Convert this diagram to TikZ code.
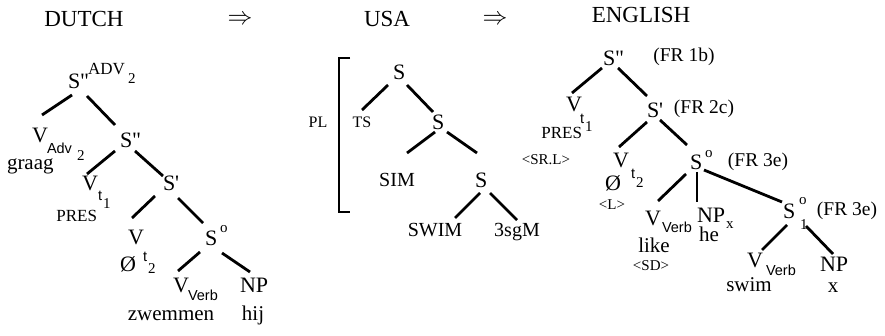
\documentclass[tikz,border=0pt]{standalone}
\usepackage{fontspec}
\setmainfont{Liberation Serif}
\newfontfamily\subsf{Liberation Sans}
\begin{document}
\begin{tikzpicture}[x=1pt,y=-1pt,
  every node/.style={inner sep=0pt, outer sep=0pt},
  big/.style={font=\fontsize{22}{24}\selectfont, anchor=base west},
  word/.style={font=\fontsize{21}{24}\selectfont, anchor=base},
  title/.style={font=\fontsize{23}{26}\selectfont, anchor=base},
  lab/.style={font=\fontsize{17}{19}\selectfont, anchor=base west},
  sup/.style={font=\fontsize{15}{17}\selectfont, anchor=base west},
  sfsub/.style={font=\subsf\fontsize{14.5}{16}\selectfont, anchor=base west},
  small/.style={font=\fontsize{16}{18}\selectfont, anchor=base},
  caps/.style={font=\fontsize{20}{22}\selectfont, anchor=base},
  fr/.style={font=\fontsize{19.5}{21}\selectfont, anchor=base},
  tiny/.style={font=\fontsize{15}{17}\selectfont, anchor=base},
  edge/.style={line width=2.8pt}
]
\useasboundingbox (0,0) rectangle (885,336);

% titles
\node[title] (tdutch) at (84,27) {DUTCH};
\node[font=\fontsize{24}{26}\selectfont] (arr1) at (240,20) {$\Rightarrow$};
\node[title] (tusa) at (387,27) {USA};
\node[font=\fontsize{24}{26}\selectfont] (arr2) at (495,20) {$\Rightarrow$};
\node[title] (teng) at (641,23) {ENGLISH};

% ===== DUTCH =====
\node[big] (dS1) at (68,89) {S\textquotedbl};
\node[lab] (dS1a) at (88,75) {ADV};
\node[sup] (dS1b) at (128,84) {2};
\node[big] (dV1) at (32,143) {V};
\node[sfsub] (dV1a) at (47,154) {Adv};
\node[sup] (dV1b) at (77,161) {2};
\node[word,anchor=base west] (dgraag) at (7,170) {graag};
\node[big] (dS2) at (120,148) {S\textquotedbl};
\node[big] (dV2) at (82,191) {V};
\node[sfsub] (dV2a) at (98,201) {t};
\node[sup] (dV2b) at (103,209) {1};
\node[lab,anchor=base east] (dpres) at (97,222) {PRES};
\node[big] (dS3) at (163,191) {S\textquotesingle};
\node[big] (dV3) at (128,245) {V};
\node[sfsub] (dV3a) at (143,262) {t};
\node[sup] (dV3b) at (148,273) {2};
\node[big] (dnull) at (120,272) {Ø};
\node[big] (dS4) at (205,246) {S};
\node[sup] (dS4a) at (220,233) {o};
\node[big] (dV4) at (173,292) {V};
\node[sfsub] (dV4a) at (188,300) {Verb};
\node[big] (dNP) at (240,292) {NP};
\node[word] (dzw) at (171,320) {zwemmen};
\node[word] (dhij) at (253,320) {hij};

\coordinate (da1) at (72,95);  \coordinate (da2) at (42,115);
\coordinate (db1) at (87,96);  \coordinate (db2) at (115,125);
\coordinate (dc1) at (115,151); \coordinate (dc2) at (87,174);
\coordinate (dd1) at (135,151); \coordinate (dd2) at (163,176);
\coordinate (de1) at (155,196); \coordinate (de2) at (132,218);
\coordinate (df1) at (178,198); \coordinate (df2) at (203,223);
\coordinate (dg1) at (200,252); \coordinate (dg2) at (178,271);
\coordinate (dh1) at (222,253); \coordinate (dh2) at (250,272);
\foreach \e in {a,b,c,d,e,f,g,h} \draw[edge] (d\e1) -- (d\e2);

% ===== USA =====
\node[big] (uS1) at (393,80) {S};
\node[small] (uTS) at (362,128) {TS};
\node[small] (uPL) at (318,128) {PL};
\coordinate (ubr1) at (350,58); \coordinate (ubr2) at (339,58);
\coordinate (ubr3) at (339,212); \coordinate (ubr4) at (350,212);
\draw[line width=2.4pt] (ubr1) -- (ubr2) -- (ubr3) -- (ubr4);
\node[big] (uS2) at (432,130) {S};
\node[caps] (uSIM) at (397,187) {SIM};
\node[big] (uS3) at (475,188) {S};
\node[caps] (uSWIM) at (435,237) {SWIM};
\node[caps] (u3sgM) at (517,237) {3sgM};

\coordinate (ua1) at (388,85);  \coordinate (ua2) at (362,110);
\coordinate (ub1) at (407,85);  \coordinate (ub2) at (433,112);
\coordinate (uc1) at (435,132); \coordinate (uc2) at (407,153);
\coordinate (ud1) at (447,132); \coordinate (ud2) at (477,153);
\coordinate (ue1) at (480,193); \coordinate (ue2) at (455,218);
\coordinate (uf1) at (490,193); \coordinate (uf2) at (517,220);
\foreach \e in {a,b,c,d,e,f} \draw[edge] (u\e1) -- (u\e2);

% ===== ENGLISH =====
\node[big] (eS1) at (603,66) {S\textquotedbl};
\node[fr] (efr1) at (684,62) {(FR 1b)};
\node[big] (eV1) at (566,112) {V};
\node[sfsub] (eV1a) at (580,124) {t};
\node[sup] (eV1b) at (585,132) {1};
\node[lab,anchor=base east] (epres) at (582,139) {PRES};
\node[tiny] (esrl) at (546,165) {<SR.L>};
\node[big] (eS2) at (647,118) {S\textquotesingle};
\node[fr] (efr2) at (704,114) {(FR 2c)};
\node[big] (eV2) at (613,168) {V};
\node[sfsub] (eV2a) at (631,179) {t};
\node[sup] (eV2b) at (636,188) {2};
\node[big] (enull) at (605,191) {Ø};
\node[tiny] (eL) at (612,210) {<L>};
\node[big] (eS3) at (690,170) {S};
\node[sup] (eS3a) at (705,158) {o};
\node[fr] (efr3) at (758,167) {(FR 3e)};
\node[big] (eV3) at (645,226) {V};
\node[sfsub] (eV3a) at (662,233) {Verb};
\node[big] (eNP1) at (697,223) {NP};
\node[sup] (eNP1a) at (726,229) {x};
\node[word] (ehe) at (709,242) {he};
\node[word] (elike) at (654,253) {like};
\node[tiny] (eSD) at (651,271) {<SD>};
\node[big] (eS4) at (783,219) {S};
\node[sup] (eS4a) at (799,205) {o};
\node[sup] (eS4b) at (800,230) {1};
\node[fr] (efr4) at (847,216) {(FR 3e)};
\node[big] (eV4) at (747,268) {V};
\node[sfsub] (eV4a) at (766,276) {Verb};
\node[big] (eNP2) at (820,272) {NP};
\node[word] (eswim) at (749,291) {swim};
\node[word] (ex) at (833,292) {x};

\coordinate (ea1) at (602,68);  \coordinate (ea2) at (572,93);
\coordinate (eb1) at (618,68);  \coordinate (eb2) at (647,96);
\coordinate (ec1) at (647,122); \coordinate (ec2) at (619,147);
\coordinate (ed1) at (660,120); \coordinate (ed2) at (687,145);
\coordinate (ee1) at (686,174); \coordinate (ee2) at (658,201);
\coordinate (ef1) at (697,172); \coordinate (ef2) at (697,202);
\coordinate (eg1) at (704,170); \coordinate (eg2) at (782,202);
\coordinate (eh1) at (787,225); \coordinate (eh2) at (762,250);
\coordinate (ei1) at (806,226); \coordinate (ei2) at (833,254);
\foreach \e in {a,b,c,d,e,f,g,h,i} \draw[edge] (e\e1) -- (e\e2);
\end{tikzpicture}
\end{document}
